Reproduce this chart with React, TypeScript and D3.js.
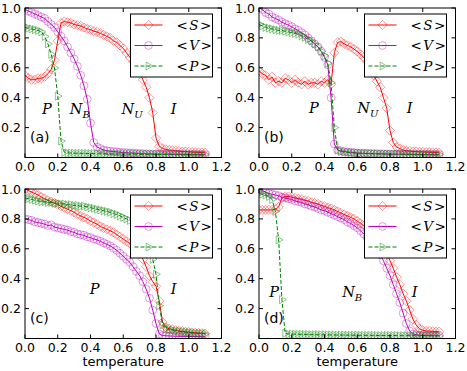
import React from 'react';
import * as d3 from 'd3';

// temperature grid of the simulation
const temperature = [
  0.0, 0.02, 0.04, 0.06, 0.08, 0.1, 0.12, 0.14, 0.16, 0.18,
  0.2, 0.22, 0.24, 0.26, 0.28, 0.3, 0.32, 0.34, 0.36, 0.38,
  0.4, 0.42, 0.44, 0.46, 0.48, 0.5, 0.52, 0.54, 0.56, 0.58,
  0.6, 0.62, 0.64, 0.66, 0.68, 0.7, 0.72, 0.74, 0.76, 0.78,
  0.8, 0.82, 0.84, 0.86, 0.88, 0.9, 0.92, 0.94, 0.96, 0.98,
  1.0, 1.02, 1.04, 1.06, 1.08, 1.1,
];

// panel (a)
const sA = [
  0.55, 0.53, 0.52, 0.52, 0.53, 0.53, 0.54, 0.56, 0.59, 0.65,
  0.78, 0.9, 0.91, 0.905, 0.9, 0.89, 0.885, 0.88, 0.87, 0.86,
  0.855, 0.845, 0.84, 0.83, 0.82, 0.81, 0.8, 0.78, 0.77, 0.75,
  0.73, 0.7, 0.67, 0.64, 0.61, 0.57, 0.52, 0.47, 0.4, 0.3,
  0.13, 0.075, 0.06, 0.055, 0.05, 0.048, 0.045, 0.043, 0.04, 0.04,
  0.038, 0.036, 0.035, 0.034, 0.033, 0.032,
];
const vA = [
  0.99, 0.98, 0.97, 0.96, 0.95, 0.94, 0.93, 0.91, 0.89, 0.87,
  0.84, 0.81, 0.78, 0.74, 0.7, 0.66, 0.61, 0.55, 0.48, 0.39,
  0.23, 0.1, 0.07, 0.06, 0.05, 0.045, 0.042, 0.04, 0.038, 0.035,
  0.033, 0.032, 0.03, 0.03, 0.028, 0.027, 0.026, 0.025, 0.024, 0.024,
  0.023, 0.023, 0.022, 0.022, 0.022, 0.021, 0.021, 0.021, 0.02, 0.02,
  0.02, 0.02, 0.02, 0.019, 0.019, 0.019,
];
const pA = [
  0.87, 0.865, 0.86, 0.855, 0.85, 0.84, 0.81, 0.76, 0.69, 0.6,
  0.41, 0.11, 0.035, 0.03, 0.03, 0.029, 0.028, 0.028, 0.027, 0.027,
  0.026, 0.026, 0.025, 0.025, 0.025, 0.024, 0.024, 0.024, 0.023, 0.023,
  0.023, 0.022, 0.022, 0.022, 0.022, 0.021, 0.021, 0.021, 0.021, 0.021,
  0.02, 0.02, 0.02, 0.02, 0.02, 0.02, 0.02, 0.019, 0.019, 0.019,
  0.019, 0.019, 0.019, 0.018, 0.018, 0.018,
];

// panel (b)
const sB = [
  0.58, 0.56, 0.55, 0.52, 0.54, 0.5, 0.51, 0.5, 0.53, 0.52,
  0.5, 0.52, 0.5, 0.49, 0.51, 0.49, 0.5, 0.5, 0.49, 0.51,
  0.5, 0.52, 0.49, 0.7, 0.77, 0.775, 0.76, 0.75, 0.74, 0.725,
  0.71, 0.69, 0.67, 0.64, 0.6, 0.55, 0.51, 0.47, 0.4, 0.33,
  0.18, 0.1, 0.07, 0.06, 0.05, 0.045, 0.043, 0.04, 0.04, 0.038,
  0.037, 0.036, 0.035, 0.034, 0.033, 0.032,
];
const vB = [
  1.0, 0.99, 0.97, 0.96, 0.94, 0.93, 0.92, 0.905, 0.895, 0.885,
  0.875, 0.86, 0.85, 0.835, 0.82, 0.8, 0.78, 0.76, 0.74, 0.71,
  0.67, 0.62, 0.4, 0.09, 0.05, 0.045, 0.04, 0.037, 0.035, 0.033,
  0.03, 0.029, 0.028, 0.027, 0.026, 0.025, 0.025, 0.024, 0.024, 0.023,
  0.023, 0.022, 0.022, 0.022, 0.021, 0.021, 0.021, 0.02, 0.02, 0.02,
  0.02, 0.02, 0.019, 0.019, 0.019, 0.019,
];
const pB = [
  0.89, 0.88, 0.87, 0.865, 0.86, 0.855, 0.85, 0.85, 0.845, 0.84,
  0.835, 0.83, 0.825, 0.815, 0.805, 0.79, 0.78, 0.76, 0.74, 0.71,
  0.68, 0.63, 0.5, 0.2, 0.05, 0.04, 0.036, 0.034, 0.032, 0.03,
  0.029, 0.028, 0.027, 0.026, 0.026, 0.025, 0.025, 0.024, 0.024, 0.023,
  0.023, 0.023, 0.022, 0.022, 0.022, 0.021, 0.021, 0.021, 0.02, 0.02,
  0.02, 0.02, 0.02, 0.02, 0.019, 0.019,
];

// panel (c)
const sC = [
  1.0, 0.99, 0.98, 0.97, 0.96, 0.945, 0.935, 0.925, 0.915, 0.905,
  0.895, 0.885, 0.875, 0.865, 0.855, 0.845, 0.83, 0.82, 0.81, 0.8,
  0.785, 0.775, 0.765, 0.75, 0.74, 0.73, 0.72, 0.71, 0.695, 0.68,
  0.665, 0.65, 0.635, 0.62, 0.6, 0.57, 0.53, 0.48, 0.42, 0.38,
  0.35, 0.25, 0.11, 0.075, 0.065, 0.06, 0.055, 0.05, 0.048, 0.045,
  0.043, 0.04, 0.038, 0.036, 0.035, 0.033,
];
const vC = [
  0.8, 0.795, 0.79, 0.78, 0.775, 0.77, 0.765, 0.755, 0.76, 0.745,
  0.74, 0.735, 0.73, 0.725, 0.715, 0.71, 0.7, 0.695, 0.69, 0.68,
  0.675, 0.665, 0.66, 0.65, 0.64, 0.63, 0.62, 0.605, 0.59, 0.57,
  0.55, 0.53, 0.51, 0.48, 0.45, 0.42, 0.38, 0.33, 0.27, 0.19,
  0.1, 0.03, 0.02, 0.018, 0.017, 0.016, 0.015, 0.015, 0.014, 0.014,
  0.014, 0.013, 0.013, 0.013, 0.012, 0.012,
];
const pC = [
  0.94, 0.935, 0.93, 0.925, 0.92, 0.915, 0.915, 0.91, 0.91, 0.905,
  0.905, 0.9, 0.9, 0.895, 0.895, 0.89, 0.89, 0.885, 0.885, 0.88,
  0.875, 0.87, 0.865, 0.86, 0.855, 0.85, 0.845, 0.835, 0.83, 0.82,
  0.81, 0.8, 0.79, 0.78, 0.765, 0.75, 0.73, 0.7, 0.62, 0.53,
  0.43, 0.22, 0.09, 0.065, 0.058, 0.055, 0.05, 0.048, 0.045, 0.043,
  0.04, 0.038, 0.036, 0.034, 0.033, 0.032,
];

// panel (d)
const sD = [
  0.86, 0.86, 0.86, 0.86, 0.86, 0.865, 0.88, 0.94, 0.95, 0.95,
  0.945, 0.94, 0.935, 0.93, 0.925, 0.92, 0.91, 0.905, 0.9, 0.89,
  0.885, 0.875, 0.87, 0.86, 0.85, 0.84, 0.83, 0.82, 0.81, 0.8,
  0.785, 0.77, 0.755, 0.74, 0.72, 0.7, 0.68, 0.65, 0.62, 0.57,
  0.52, 0.47, 0.41, 0.36, 0.3, 0.25, 0.19, 0.13, 0.09, 0.065,
  0.055, 0.05, 0.05, 0.048, 0.046, 0.045,
];
const vD = [
  1.0, 0.99, 0.98, 0.97, 0.965, 0.96, 0.955, 0.945, 0.94, 0.935,
  0.93, 0.92, 0.915, 0.91, 0.9, 0.895, 0.885, 0.88, 0.87, 0.86,
  0.855, 0.845, 0.835, 0.825, 0.815, 0.805, 0.795, 0.78, 0.77, 0.755,
  0.74, 0.72, 0.7, 0.675, 0.65, 0.625, 0.595, 0.56, 0.52, 0.47,
  0.42, 0.36, 0.3, 0.24, 0.17, 0.1, 0.05, 0.03, 0.025, 0.022,
  0.02, 0.02, 0.019, 0.019, 0.018, 0.018,
];
const pD = [
  0.97, 0.965, 0.96, 0.95, 0.93, 0.85, 0.66, 0.26, 0.035, 0.03,
  0.03, 0.029, 0.028, 0.028, 0.027, 0.027, 0.026, 0.026, 0.025, 0.025,
  0.025, 0.024, 0.024, 0.024, 0.023, 0.023, 0.023, 0.022, 0.022, 0.022,
  0.022, 0.021, 0.021, 0.021, 0.021, 0.021, 0.02, 0.02, 0.02, 0.02,
  0.02, 0.02, 0.02, 0.019, 0.019, 0.019, 0.019, 0.019, 0.019, 0.018,
  0.018, 0.018, 0.018, 0.018, 0.018, 0.018,
];

const xTicks = [0.0, 0.2, 0.4, 0.6, 0.8, 1.0, 1.2];
const yTicks = [0.2, 0.4, 0.6, 0.8, 1.0];
const seriesNames = ['S', 'V', 'P'];

// phase labels: [name, subscript, temperature, order parameter]
const phasesA = [['P', '', 0.134, 0.29], ['N', 'B', 0.274, 0.29], ['N', 'U', 0.59, 0.29], ['I', '', 0.908, 0.29]];
const phasesB = [['P', '', 0.335, 0.295], ['N', 'U', 0.6, 0.295], ['I', '', 0.92, 0.295]];
const phasesC = [['P', '', 0.425, 0.296], ['I', '', 0.908, 0.296]];
const phasesD = [['P', '', 0.092, 0.28], ['N', 'B', 0.508, 0.28], ['I', '', 0.95, 0.28]];

const panels = [
  {tag: '(a)', col: 0, row: 0, series: [sA, vA, pA], phases: phasesA},
  {tag: '(b)', col: 1, row: 0, series: [sB, vB, pB], phases: phasesB},
  {tag: '(c)', col: 0, row: 1, series: [sC, vC, pC], phases: phasesC},
  {tag: '(d)', col: 1, row: 1, series: [sD, vD, pD], phases: phasesD},
];

const W = 467;
const H = 371;
const colX = [25, 259];
const rowY = [8, 189];
const plotW = 196.5;
const plotH = 149.5;
const sans = 'DejaVu Sans, sans-serif';
const serif = 'DejaVu Serif, serif';

const styles = [
  {line: '#ff0000', mark: 'rgba(255,0,0,0.45)', dash: null, shape: 'diamond'},
  {line: '#bf00bf', mark: 'rgba(191,0,191,0.45)', dash: null, shape: 'circle'},
  {line: '#008000', mark: 'rgba(0,128,0,0.5)', dash: '4,2', shape: 'tri'},
];

function Marker({shape, x, y, color}) {
  if (shape === 'circle') {
    return <circle cx={x} cy={y} r={3.9} fill="none" stroke={color} strokeWidth={0.9} />;
  }
  const d = shape === 'diamond'
    ? 'M0,-4.6L4.6,0L0,4.6L-4.6,0Z'
    : 'M4.4,0L-2.4,-4L-2.4,4Z';
  return <path d={d} transform={`translate(${x},${y})`} fill="none" stroke={color} strokeWidth={0.9} />;
}

function Panel({cfg}) {
  const x0 = colX[cfg.col];
  const y0 = rowY[cfg.row];
  const x = d3.scaleLinear().domain([0, 1.2]).range([x0, x0 + plotW]);
  const y = d3.scaleLinear().domain([0, 1]).range([y0 + plotH, y0]);
  const clipId = `clip-${cfg.col}-${cfg.row}`;
  const line = d3.line<number>().x((_, i) => x(temperature[i])).y((d) => y(d));

  const legW = 82;
  const legH = 63;
  const legX = x0 + plotW - 9 - legW;
  const legY = y0 + 6;

  return (
    <g>
      <defs>
        <clipPath id={clipId}>
          <rect x={x0} y={y0} width={plotW} height={plotH} />
        </clipPath>
      </defs>
      <rect x={x0} y={y0} width={plotW} height={plotH} fill="white" />
      <g clipPath={`url(#${clipId})`}>
        {cfg.series.map((vals, si) => (
          <g key={si}>
            <path d={line(vals) || ''} fill="none" stroke={styles[si].line} strokeWidth={1}
              strokeDasharray={styles[si].dash || undefined} />
            {vals.map((v, i) => (
              <Marker key={i} shape={styles[si].shape} x={x(temperature[i])} y={y(v)} color={styles[si].mark} />
            ))}
          </g>
        ))}
      </g>
      {/* frame and inward ticks */}
      <rect x={x0} y={y0} width={plotW} height={plotH} fill="none" stroke="black" strokeWidth={1} />
      {xTicks.map((t) => (
        <g key={`x${t}`}>
          <line x1={x(t)} x2={x(t)} y1={y0 + plotH} y2={y0 + plotH - 4} stroke="black" />
          <line x1={x(t)} x2={x(t)} y1={y0} y2={y0 + 4} stroke="black" />
          <text x={x(t)} y={y0 + plotH + 13} textAnchor="middle" fontFamily={sans} fontSize={12.5}>
            {t.toFixed(1)}
          </text>
        </g>
      ))}
      {yTicks.map((t) => (
        <g key={`y${t}`}>
          <line x1={x0} x2={x0 + 4} y1={y(t)} y2={y(t)} stroke="black" />
          <line x1={x0 + plotW} x2={x0 + plotW - 4} y1={y(t)} y2={y(t)} stroke="black" />
          <text x={x0 - 4} y={y(t)} dy="0.36em" textAnchor="end" fontFamily={sans} fontSize={12.5}>
            {t.toFixed(1)}
          </text>
        </g>
      ))}
      {/* phase labels */}
      {cfg.phases.map(([name, sub, t, v], i) => (
        <text key={i} x={x(t as number)} y={y(v as number)} textAnchor={sub ? 'start' : 'middle'}
          fontFamily={serif} fontStyle="italic" fontSize={14.5}>
          {name}
          {sub ? <tspan fontSize={10} dy={4}>{sub}</tspan> : null}
        </text>
      ))}
      <text x={x0 + 5} y={y0 + plotH - 16} fontFamily={sans} fontSize={14}>{cfg.tag}</text>
      {/* legend */}
      <rect x={legX} y={legY} width={legW} height={legH} fill="white" stroke="black" strokeWidth={1} />
      {seriesNames.map((name, si) => {
        const ly = legY + 11 + si * 20.5;
        return (
          <g key={name}>
            <line x1={legX + 4} x2={legX + 32} y1={ly} y2={ly} stroke={styles[si].line} strokeWidth={1}
              strokeDasharray={styles[si].dash || undefined} />
            <Marker shape={styles[si].shape} x={legX + 18} y={ly} color={styles[si].mark} />
            <text x={legX + 46} y={ly} dy="0.36em" fontFamily={serif} fontSize={13.5}>
              {'<'}
              <tspan fontStyle="italic" dx={1.5}>{name}</tspan>
              <tspan dx={1.5}>{'>'}</tspan>
            </text>
          </g>
        );
      })}
      {cfg.row === 1 ? (
        <text x={x0 + plotW / 2} y={H - 5.5} textAnchor="middle" fontFamily={sans} fontSize={13}>
          temperature
        </text>
      ) : null}
    </g>
  );
}

export default function App() {
  return (
    <svg width={W} height={H} style={{position: 'absolute', left: 0, top: 0, background: 'white'}}>
      <rect width={W} height={H} fill="white" />
      {panels.map((p) => (
        <Panel key={p.tag} cfg={p} />
      ))}
    </svg>
  );
}
